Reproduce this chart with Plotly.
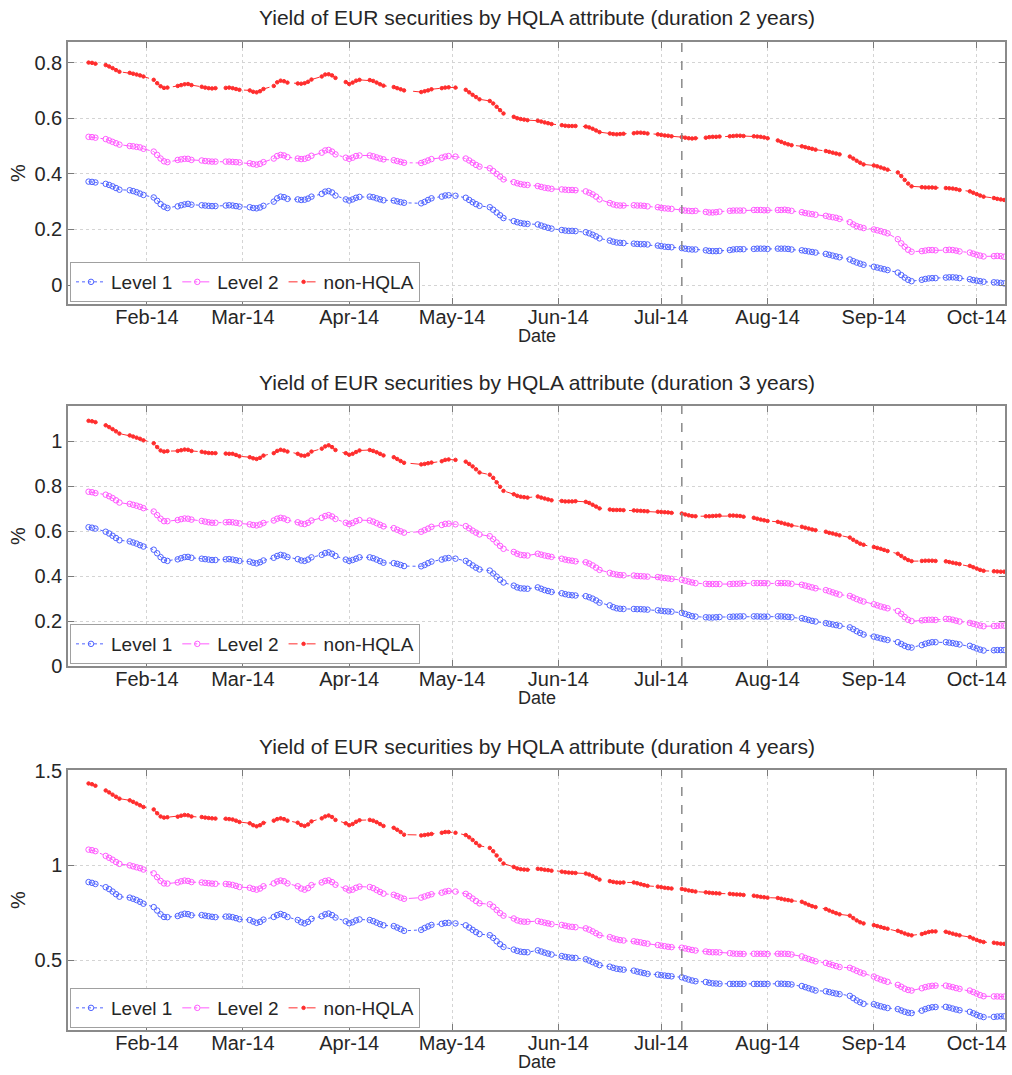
import pandas as pd
import plotly.graph_objects as go

# ---------------- data ----------------
start_date = "2014-01-15"
end_date = "2014-10-09"
holidays = ["2014-04-18", "2014-04-21", "2014-05-01"]
dates = pd.bdate_range(start_date, end_date)
dates = dates[~dates.isin(pd.to_datetime(holidays))]

month_ticks = ["2014-02-01", "2014-03-01", "2014-04-01", "2014-05-01", "2014-06-01",
               "2014-07-01", "2014-08-01", "2014-09-01", "2014-10-01"]
month_labels = ["Feb-14", "Mar-14", "Apr-14", "May-14", "Jun-14",
                "Jul-14", "Aug-14", "Sep-14", "Oct-14"]
event_date = "2014-07-07"
series_names = ["Level 1", "Level 2", "non-HQLA"]
titles = ["Yield of EUR securities by HQLA attribute (duration 2 years)",
          "Yield of EUR securities by HQLA attribute (duration 3 years)",
          "Yield of EUR securities by HQLA attribute (duration 4 years)"]

# ---- duration 2 years ----
l1_2y = [0.372, 0.371, 0.369,
         0.364, 0.360, 0.355, 0.349, 0.343,
         0.341, 0.338, 0.334, 0.329, 0.324,
         0.315, 0.303, 0.291, 0.282, 0.277,
         0.283, 0.287, 0.290, 0.292, 0.289,
         0.287, 0.286, 0.285, 0.284, 0.284,
         0.286, 0.287, 0.286, 0.284, 0.282,
         0.280, 0.277, 0.276, 0.279, 0.285,
         0.300, 0.312, 0.318, 0.316, 0.310,
         0.308, 0.306, 0.307, 0.311, 0.318,
         0.328, 0.336, 0.338, 0.333, 0.322,
         0.308, 0.304, 0.308, 0.314, 0.317,
         0.318, 0.316, 0.312, 0.308, 0.305,
         0.304, 0.301, 0.298, 0.296,
         0.294, 0.299, 0.306, 0.312,
         0.318, 0.322, 0.323, 0.321,
         0.314, 0.306, 0.298, 0.291, 0.285,
         0.280, 0.271, 0.261, 0.251, 0.241,
         0.230, 0.226, 0.223, 0.221, 0.220,
         0.218, 0.214, 0.210, 0.206, 0.203,
         0.198, 0.196, 0.195, 0.195, 0.194,
         0.190, 0.186, 0.181, 0.175, 0.168,
         0.160, 0.156, 0.153, 0.152, 0.151,
         0.149, 0.148, 0.147, 0.147, 0.146,
         0.142, 0.140, 0.138, 0.137, 0.136,
         0.133, 0.131, 0.129, 0.128, 0.128,
         0.125, 0.123, 0.122, 0.122, 0.123,
         0.126, 0.128, 0.129, 0.129, 0.129,
         0.130, 0.131, 0.131, 0.131, 0.130,
         0.131, 0.131, 0.131, 0.130, 0.128,
         0.125, 0.123, 0.121, 0.119, 0.117,
         0.112, 0.109, 0.106, 0.103, 0.100,
         0.092, 0.086, 0.081, 0.077, 0.073,
         0.066, 0.063, 0.060, 0.057, 0.054,
         0.045, 0.036, 0.027, 0.019, 0.014,
         0.019, 0.022, 0.024, 0.025, 0.025,
         0.027, 0.028, 0.028, 0.027, 0.025,
         0.021, 0.018, 0.016, 0.014, 0.012,
         0.010, 0.009, 0.008, 0.006]

l2_2y = [0.533, 0.532, 0.530,
         0.525, 0.520, 0.515, 0.510, 0.505,
         0.500, 0.499, 0.497, 0.495, 0.490,
         0.480, 0.468, 0.455, 0.445, 0.442,
         0.450, 0.452, 0.454, 0.454, 0.450,
         0.448, 0.446, 0.445, 0.444, 0.444,
         0.444, 0.444, 0.443, 0.442, 0.441,
         0.438, 0.435, 0.433, 0.436, 0.442,
         0.455, 0.464, 0.468, 0.466, 0.460,
         0.455, 0.453, 0.454, 0.458, 0.465,
         0.476, 0.484, 0.486, 0.480, 0.470,
         0.458, 0.454, 0.458, 0.464, 0.466,
         0.466, 0.463, 0.459, 0.455, 0.452,
         0.449, 0.446, 0.443, 0.440,
         0.439, 0.443, 0.448, 0.453,
         0.458, 0.462, 0.464, 0.462,
         0.455, 0.448, 0.440, 0.432, 0.426,
         0.420, 0.410, 0.400, 0.390, 0.380,
         0.370, 0.366, 0.363, 0.361, 0.360,
         0.356, 0.353, 0.350, 0.348, 0.346,
         0.344, 0.343, 0.342, 0.342, 0.341,
         0.337, 0.332, 0.326, 0.318, 0.308,
         0.295, 0.290, 0.287, 0.286, 0.286,
         0.287, 0.286, 0.286, 0.285, 0.283,
         0.280, 0.278, 0.276, 0.275, 0.274,
         0.270, 0.268, 0.267, 0.266, 0.267,
         0.263, 0.261, 0.261, 0.262, 0.264,
         0.267, 0.268, 0.268, 0.268, 0.268,
         0.270, 0.270, 0.270, 0.269, 0.269,
         0.270, 0.270, 0.271, 0.269, 0.267,
         0.262, 0.259, 0.257, 0.255, 0.253,
         0.249, 0.246, 0.244, 0.242, 0.238,
         0.226, 0.218, 0.212, 0.208, 0.205,
         0.200, 0.197, 0.194, 0.190, 0.186,
         0.165, 0.150, 0.138, 0.127, 0.120,
         0.122, 0.124, 0.126, 0.126, 0.125,
         0.126, 0.127, 0.126, 0.124, 0.121,
         0.117, 0.113, 0.109, 0.106, 0.103,
         0.104, 0.105, 0.104, 0.102]

nh_2y = [0.800, 0.799, 0.796,
         0.791, 0.786, 0.780, 0.773, 0.767,
         0.763, 0.760, 0.757, 0.754, 0.750,
         0.738, 0.726, 0.715, 0.709, 0.710,
         0.716, 0.719, 0.722, 0.723, 0.719,
         0.713, 0.710, 0.708, 0.707, 0.708,
         0.709, 0.710, 0.708, 0.705, 0.702,
         0.700, 0.695, 0.693, 0.697, 0.705,
         0.716, 0.729, 0.735, 0.733, 0.728,
         0.725, 0.724, 0.726, 0.731, 0.739,
         0.750, 0.757, 0.758, 0.754, 0.745,
         0.730, 0.723, 0.728, 0.735, 0.738,
         0.737, 0.734, 0.728, 0.722, 0.717,
         0.712, 0.708, 0.704, 0.700,
         0.694, 0.697, 0.700, 0.704,
         0.708, 0.710, 0.711, 0.710,
         0.702, 0.693, 0.684, 0.676, 0.668,
         0.662, 0.653, 0.641, 0.629, 0.617,
         0.605, 0.600, 0.597, 0.595, 0.593,
         0.591, 0.588, 0.585, 0.582, 0.579,
         0.575, 0.573, 0.572, 0.572, 0.572,
         0.570, 0.567, 0.562, 0.556, 0.550,
         0.545, 0.543, 0.542, 0.543, 0.544,
         0.546, 0.548, 0.548, 0.547, 0.545,
         0.542, 0.540, 0.538, 0.537, 0.535,
         0.532, 0.530, 0.528, 0.527, 0.528,
         0.530, 0.532, 0.533, 0.533, 0.534,
         0.535, 0.536, 0.537, 0.537, 0.536,
         0.535, 0.534, 0.533, 0.531, 0.528,
         0.520, 0.515, 0.510, 0.506, 0.503,
         0.499, 0.496, 0.493, 0.490, 0.487,
         0.482, 0.479, 0.476, 0.473, 0.470,
         0.462, 0.455, 0.447, 0.440, 0.434,
         0.430, 0.427, 0.423, 0.419, 0.415,
         0.405, 0.392, 0.378, 0.365, 0.355,
         0.352, 0.351, 0.351, 0.351, 0.350,
         0.349, 0.348, 0.347, 0.345, 0.342,
         0.337, 0.332, 0.327, 0.322, 0.318,
         0.313, 0.310, 0.308, 0.306]

# ---- duration 3 years ----
l1_3y = [0.618, 0.616, 0.612,
         0.598, 0.590, 0.580, 0.570, 0.560,
         0.555, 0.550, 0.545, 0.538, 0.532,
         0.518, 0.502, 0.485, 0.472, 0.468,
         0.475, 0.480, 0.485, 0.486, 0.482,
         0.478, 0.476, 0.474, 0.472, 0.472,
         0.475, 0.476, 0.474, 0.471, 0.468,
         0.465, 0.460, 0.457, 0.462, 0.470,
         0.482, 0.490, 0.495, 0.492, 0.485,
         0.476, 0.470, 0.468, 0.474, 0.484,
         0.495, 0.503, 0.506, 0.500, 0.490,
         0.474, 0.468, 0.472, 0.478, 0.484,
         0.484, 0.480, 0.474, 0.467, 0.460,
         0.458, 0.455, 0.450, 0.445,
         0.444, 0.450, 0.458, 0.465,
         0.474, 0.479, 0.481, 0.478,
         0.468, 0.458, 0.448, 0.438, 0.430,
         0.425, 0.412, 0.398, 0.384, 0.372,
         0.358, 0.350, 0.346, 0.345, 0.344,
         0.350, 0.344, 0.338, 0.334, 0.330,
         0.324, 0.320, 0.317, 0.315, 0.314,
         0.311, 0.306, 0.300, 0.292, 0.282,
         0.270, 0.262, 0.257, 0.255, 0.254,
         0.254, 0.253, 0.253, 0.252, 0.251,
         0.248, 0.246, 0.244, 0.243, 0.242,
         0.237, 0.232, 0.227, 0.222, 0.220,
         0.217, 0.216, 0.216, 0.217, 0.218,
         0.219, 0.220, 0.220, 0.221, 0.221,
         0.221, 0.221, 0.220, 0.220, 0.220,
         0.221, 0.221, 0.220, 0.219, 0.217,
         0.213, 0.209, 0.205, 0.201, 0.198,
         0.191, 0.188, 0.185, 0.182, 0.179,
         0.172, 0.164, 0.155, 0.147, 0.140,
         0.131, 0.127, 0.123, 0.119, 0.116,
         0.106, 0.098, 0.090, 0.084, 0.082,
         0.093, 0.099, 0.103, 0.106, 0.106,
         0.106, 0.104, 0.102, 0.099, 0.096,
         0.090, 0.084, 0.078, 0.073, 0.069,
         0.070, 0.071, 0.071, 0.071]

l2_3y = [0.776, 0.774, 0.770,
         0.763, 0.756, 0.748, 0.738, 0.728,
         0.722, 0.718, 0.714, 0.709, 0.703,
         0.688, 0.672, 0.656, 0.645, 0.645,
         0.650, 0.654, 0.657, 0.656, 0.652,
         0.646, 0.643, 0.640, 0.638, 0.638,
         0.640, 0.641, 0.640, 0.638, 0.635,
         0.631, 0.628, 0.626, 0.630, 0.637,
         0.648, 0.656, 0.660, 0.657, 0.650,
         0.640, 0.634, 0.632, 0.638, 0.648,
         0.660, 0.668, 0.672, 0.666, 0.655,
         0.638, 0.632, 0.637, 0.645, 0.650,
         0.648, 0.643, 0.636, 0.629, 0.622,
         0.614, 0.607, 0.600, 0.594,
         0.598, 0.605, 0.612, 0.620,
         0.628, 0.633, 0.634, 0.631,
         0.623, 0.613, 0.603, 0.594, 0.586,
         0.578, 0.565, 0.550, 0.535, 0.522,
         0.508, 0.500, 0.495, 0.493, 0.492,
         0.500, 0.496, 0.492, 0.489, 0.486,
         0.478, 0.474, 0.471, 0.469, 0.466,
         0.462, 0.456, 0.448, 0.438, 0.428,
         0.415, 0.410, 0.407, 0.405, 0.404,
         0.403, 0.401, 0.400, 0.399, 0.398,
         0.396, 0.394, 0.392, 0.390, 0.388,
         0.384, 0.380, 0.376, 0.372, 0.369,
         0.366, 0.365, 0.365, 0.365, 0.365,
         0.365, 0.366, 0.366, 0.367, 0.368,
         0.369, 0.369, 0.369, 0.369, 0.368,
         0.369, 0.369, 0.369, 0.368, 0.366,
         0.362, 0.358, 0.354, 0.350, 0.346,
         0.338, 0.333, 0.328, 0.323, 0.318,
         0.312, 0.305, 0.298, 0.292, 0.287,
         0.275, 0.270, 0.265, 0.261, 0.257,
         0.245, 0.232, 0.218, 0.206, 0.200,
         0.203, 0.205, 0.206, 0.206, 0.205,
         0.210, 0.209, 0.206, 0.202, 0.198,
         0.192, 0.188, 0.184, 0.180, 0.177,
         0.178, 0.179, 0.180, 0.180]

nh_3y = [1.092, 1.090, 1.086,
         1.072, 1.064, 1.055, 1.045, 1.035,
         1.027, 1.022, 1.017, 1.012, 1.005,
         0.992, 0.975, 0.960, 0.955, 0.957,
         0.958, 0.961, 0.964, 0.963, 0.958,
         0.954, 0.951, 0.949, 0.948, 0.948,
         0.946, 0.945, 0.945, 0.940, 0.934,
         0.930, 0.925, 0.922, 0.927, 0.937,
         0.948, 0.958, 0.963, 0.960, 0.955,
         0.945, 0.938, 0.936, 0.942, 0.955,
         0.968, 0.978, 0.983, 0.975, 0.962,
         0.948, 0.941, 0.945, 0.953, 0.960,
         0.962, 0.958, 0.952, 0.945, 0.938,
         0.930, 0.922, 0.913, 0.905,
         0.898, 0.900, 0.903, 0.906,
         0.912, 0.918, 0.920, 0.918,
         0.910, 0.900, 0.889, 0.876, 0.862,
         0.852, 0.838, 0.818, 0.798, 0.780,
         0.765, 0.758, 0.754, 0.752, 0.750,
         0.755, 0.750, 0.746, 0.742, 0.738,
         0.735, 0.733, 0.733, 0.733, 0.734,
         0.731, 0.726, 0.718, 0.710, 0.702,
         0.697, 0.695, 0.695, 0.695, 0.694,
         0.693, 0.692, 0.691, 0.690, 0.689,
         0.687, 0.686, 0.685, 0.684, 0.682,
         0.679, 0.675, 0.671, 0.668, 0.667,
         0.667, 0.667, 0.668, 0.669, 0.670,
         0.670, 0.670, 0.669, 0.668, 0.665,
         0.660, 0.656, 0.652, 0.649, 0.646,
         0.642, 0.638, 0.634, 0.630, 0.626,
         0.620, 0.616, 0.612, 0.608, 0.605,
         0.598, 0.593, 0.590, 0.586, 0.582,
         0.572, 0.562, 0.553, 0.545, 0.540,
         0.530, 0.526, 0.522, 0.517, 0.512,
         0.500, 0.490, 0.480, 0.472, 0.467,
         0.468, 0.469, 0.469, 0.469, 0.468,
         0.466, 0.463, 0.460, 0.457, 0.454,
         0.446, 0.440, 0.434, 0.428, 0.424,
         0.422, 0.421, 0.420, 0.420]

# ---- duration 4 years ----
l1_4y = [0.912, 0.908, 0.902,
         0.885, 0.875, 0.862, 0.848, 0.835,
         0.830, 0.824, 0.817, 0.808, 0.798,
         0.780, 0.762, 0.742, 0.728, 0.727,
         0.733, 0.740, 0.745, 0.743, 0.737,
         0.738, 0.735, 0.732, 0.729, 0.727,
         0.730, 0.730, 0.727, 0.722, 0.716,
         0.712, 0.704, 0.697, 0.702, 0.714,
         0.728, 0.738, 0.744, 0.738, 0.728,
         0.712, 0.700, 0.694, 0.702, 0.718,
         0.732, 0.742, 0.746, 0.738, 0.725,
         0.705, 0.695, 0.700, 0.710, 0.715,
         0.712, 0.706, 0.698, 0.690, 0.684,
         0.680, 0.672, 0.664, 0.655,
         0.660, 0.670, 0.678, 0.686,
         0.692, 0.696, 0.697, 0.694,
         0.684, 0.672, 0.660, 0.648, 0.638,
         0.632, 0.618, 0.600, 0.584, 0.570,
         0.556, 0.549, 0.545, 0.543, 0.542,
         0.552, 0.546, 0.540, 0.535, 0.530,
         0.522, 0.518, 0.515, 0.513, 0.512,
         0.505, 0.498, 0.490, 0.482, 0.474,
         0.466, 0.460, 0.455, 0.452, 0.450,
         0.445, 0.440, 0.436, 0.432, 0.428,
         0.424, 0.421, 0.419, 0.417, 0.415,
         0.410, 0.404, 0.398, 0.393, 0.389,
         0.385, 0.381, 0.378, 0.377, 0.376,
         0.375, 0.375, 0.375, 0.375, 0.375,
         0.375, 0.375, 0.375, 0.375, 0.375,
         0.376, 0.376, 0.375, 0.374, 0.372,
         0.364, 0.358, 0.352, 0.346, 0.340,
         0.336, 0.332, 0.328, 0.324, 0.321,
         0.312, 0.300, 0.288, 0.278, 0.270,
         0.268, 0.262, 0.257, 0.252, 0.248,
         0.242, 0.235, 0.228, 0.223, 0.221,
         0.234, 0.242, 0.248, 0.252, 0.253,
         0.254, 0.250, 0.245, 0.240, 0.236,
         0.228, 0.220, 0.212, 0.205, 0.200,
         0.201, 0.203, 0.204, 0.204]

l2_4y = [1.083, 1.080, 1.075,
         1.050, 1.040, 1.030, 1.018, 1.008,
         1.000, 0.995, 0.990, 0.985, 0.978,
         0.958, 0.938, 0.918, 0.905, 0.904,
         0.910, 0.916, 0.920, 0.918, 0.912,
         0.910, 0.908, 0.906, 0.904, 0.903,
         0.902, 0.900, 0.897, 0.892, 0.886,
         0.882, 0.876, 0.872, 0.878, 0.890,
         0.905, 0.915, 0.920, 0.916, 0.905,
         0.890, 0.878, 0.872, 0.880, 0.896,
         0.910, 0.918, 0.921, 0.912, 0.898,
         0.878, 0.868, 0.872, 0.882, 0.888,
         0.886, 0.880, 0.870, 0.860, 0.851,
         0.845, 0.838, 0.830, 0.824,
         0.830, 0.836, 0.842, 0.848,
         0.856, 0.862, 0.865, 0.862,
         0.850, 0.838, 0.825, 0.812, 0.800,
         0.795, 0.782, 0.765, 0.748, 0.735,
         0.720, 0.710, 0.705, 0.703, 0.703,
         0.706, 0.702, 0.698, 0.694, 0.690,
         0.686, 0.682, 0.678, 0.676, 0.674,
         0.668, 0.661, 0.652, 0.642, 0.632,
         0.622, 0.615, 0.610, 0.606, 0.604,
         0.600, 0.597, 0.594, 0.590, 0.587,
         0.580, 0.577, 0.574, 0.571, 0.569,
         0.566, 0.562, 0.558, 0.554, 0.551,
         0.546, 0.543, 0.542, 0.542, 0.541,
         0.537, 0.535, 0.534, 0.534, 0.533,
         0.534, 0.534, 0.534, 0.534, 0.533,
         0.534, 0.534, 0.534, 0.533, 0.530,
         0.520, 0.512, 0.506, 0.500, 0.494,
         0.486, 0.480, 0.474, 0.469, 0.464,
         0.460, 0.452, 0.444, 0.436, 0.430,
         0.414, 0.405, 0.398, 0.392, 0.386,
         0.370, 0.360, 0.350, 0.343, 0.340,
         0.352, 0.358, 0.362, 0.365, 0.366,
         0.366, 0.362, 0.358, 0.353, 0.349,
         0.340, 0.332, 0.324, 0.316, 0.310,
         0.309, 0.309, 0.308, 0.308]

nh_4y = [1.432, 1.428, 1.420,
         1.395, 1.385, 1.373, 1.362, 1.352,
         1.343, 1.335, 1.326, 1.317, 1.308,
         1.295, 1.275, 1.258, 1.252, 1.254,
         1.257, 1.262, 1.266, 1.264, 1.258,
         1.255, 1.252, 1.250, 1.248, 1.247,
         1.246, 1.244, 1.242, 1.236, 1.229,
         1.222, 1.212, 1.206, 1.212, 1.224,
         1.236, 1.244, 1.248, 1.244, 1.236,
         1.225, 1.213, 1.208, 1.216, 1.232,
         1.248, 1.258, 1.263, 1.255, 1.240,
         1.222, 1.212, 1.218, 1.230, 1.238,
         1.240, 1.236, 1.228, 1.218, 1.208,
         1.198, 1.188, 1.176, 1.162,
         1.158, 1.160, 1.163, 1.166,
         1.172, 1.176, 1.176, 1.172,
         1.160, 1.148, 1.134, 1.118, 1.104,
         1.092, 1.075, 1.052, 1.030, 1.010,
         0.992, 0.984, 0.980, 0.978, 0.977,
         0.982, 0.980, 0.977, 0.975, 0.972,
         0.967, 0.964, 0.962, 0.961, 0.960,
         0.957, 0.952, 0.944, 0.935, 0.925,
         0.917, 0.913, 0.910, 0.909, 0.910,
         0.910, 0.906, 0.901, 0.896, 0.892,
         0.888, 0.885, 0.882, 0.880, 0.878,
         0.876, 0.872, 0.868, 0.865, 0.862,
         0.858, 0.856, 0.854, 0.853, 0.852,
         0.850, 0.848, 0.847, 0.846, 0.844,
         0.840, 0.837, 0.834, 0.832, 0.830,
         0.828, 0.824, 0.820, 0.817, 0.814,
         0.808, 0.800, 0.792, 0.785, 0.780,
         0.770, 0.762, 0.755, 0.748, 0.742,
         0.735, 0.722, 0.710, 0.700, 0.694,
         0.685, 0.680, 0.675, 0.670, 0.666,
         0.655, 0.648, 0.641, 0.635, 0.631,
         0.638, 0.644, 0.649, 0.652, 0.652,
         0.650, 0.645, 0.640, 0.635, 0.631,
         0.622, 0.614, 0.607, 0.600, 0.596,
         0.592, 0.589, 0.587, 0.586]

y_ranges = [[-0.068, 0.874], [0.0, 1.158], [0.132, 1.503]]
y_ticks = [[0, 0.2, 0.4, 0.6, 0.8], [0, 0.2, 0.4, 0.6, 0.8, 1], [0.5, 1, 1.5]]

panels = [(l1_2y, l2_2y, nh_2y), (l1_3y, l2_3y, nh_3y), (l1_4y, l2_4y, nh_4y)]
for grp in panels:
    for s in grp:
        assert len(s) == len(dates), (len(s), len(dates))

# ---------------- figure ----------------
W, H = 1012, 1075
FONT = "Liberation Sans, Arial, Helvetica, sans-serif"
TXT = "#262626"

# pixel layout of each panel (top, bottom)
panel_px = [(42, 304), (406, 666), (770, 1030)]
x_px = (68, 1005)

styles = [
    dict(color="rgb(80,100,255)", dash="dot", symbol="circle-open", size=5.5),
    dict(color="rgb(255,90,255)", dash="dashdot", symbol="circle-open", size=5.5),
    dict(color="rgb(255,45,45)", dash="dash", symbol="circle", size=3.5),
]

fig = go.Figure()
legend_names = ["legend", "legend2", "legend3"]

for i, (grp, (top, bot)) in enumerate(zip(panels, panel_px)):
    ax = "" if i == 0 else str(i + 1)
    for name, vals, st in zip(series_names, grp, styles):
        fig.add_trace(go.Scatter(
            x=dates, y=vals, name=name, mode="lines+markers",
            xaxis="x" + ax, yaxis="y" + ax, legend=legend_names[i],
            line=dict(color=st["color"], width=1, dash=st["dash"]),
            marker=dict(symbol=st["symbol"], size=st["size"], color=st["color"],
                        line=dict(color=st["color"], width=1)),
        ))

    ydom = [1 - bot / H, 1 - top / H]
    common = dict(
        showline=True, linecolor="#8a8a8a", linewidth=1.5, mirror="ticks",
        ticks="inside", ticklen=6, tickcolor="#7a7a7a", tickwidth=1,
        showgrid=True, gridcolor="#d4d4d4", griddash="dot", gridwidth=1,
        zeroline=False, automargin=False,
        tickfont=dict(family=FONT, size=20, color=TXT),
    )
    fig.update_layout(**{
        "xaxis" + ax: dict(
            type="date", domain=[x_px[0] / W, x_px[1] / W],
            range=["2014-01-09", "2014-10-09 06:00"],
            tickvals=month_ticks, ticktext=month_labels,
            ticklabelstandoff=-6,
            anchor="y" + ax, **common),
        "yaxis" + ax: dict(
            domain=ydom, range=y_ranges[i], tickvals=y_ticks[i],
            anchor="x" + ax, **common),
        legend_names[i]: dict(
            x=70 / W, y=1 - (bot - 2) / H, xanchor="left", yanchor="bottom",
            orientation="h", bgcolor="white", bordercolor="#a0a0a0", borderwidth=1,
            font=dict(family=FONT, size=19, color=TXT), itemwidth=30,
            tracegroupgap=0),
    })
    # event marker line
    fig.add_shape(type="line", xref="x" + ax, yref="y" + ax + " domain",
                  x0=event_date, x1=event_date, y0=0, y1=1,
                  line=dict(color="#8a8a8a", width=1.5, dash="dash"))
    # title
    fig.add_annotation(text=titles[i], xref="paper", yref="paper",
                       x=(x_px[0] + x_px[1]) / 2 / W, y=1 - (top - 24) / H,
                       xanchor="center", yanchor="middle",
                       showarrow=False, font=dict(family=FONT, size=21, color=TXT))
    # x label
    fig.add_annotation(text="Date", xref="paper", yref="paper",
                       x=(x_px[0] + x_px[1]) / 2 / W, y=1 - (bot + 32) / H,
                       xanchor="center", yanchor="middle",
                       showarrow=False, font=dict(family=FONT, size=18, color=TXT))
    # y label
    fig.add_annotation(text="%", xref="paper", yref="paper", textangle=-90,
                       x=18 / W, y=1 - ((top + bot) / 2) / H,
                       xanchor="center", yanchor="middle",
                       showarrow=False, font=dict(family=FONT, size=20, color=TXT))

fig.update_layout(
    width=W, height=H, margin=dict(l=0, r=0, t=0, b=0, autoexpand=False),
    paper_bgcolor="white", plot_bgcolor="white",
    font=dict(family=FONT, color=TXT),
)

fig.write_html("out.html", config={"displayModeBar": False})

# remove default page margin so the figure starts at the window corner
with open("out.html", "r", encoding="utf-8") as f:
    html = f.read()
html = html.replace("<body>", '<body style="margin:0;padding:0;overflow:hidden">', 1)
with open("out.html", "w", encoding="utf-8") as f:
    f.write(html)
